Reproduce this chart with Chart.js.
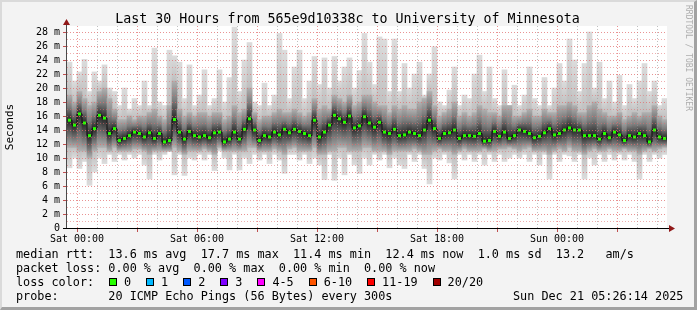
<!DOCTYPE html>
<html><head><meta charset="utf-8">
<script src="https://cdn.jsdelivr.net/npm/chart.js@4.4.1/dist/chart.umd.min.js"></script>
<style>
html,body{margin:0;padding:0;}
body{width:697px;height:310px;overflow:hidden;background:#f3f3f3;position:relative;font-family:'DejaVu Sans Mono',monospace;}
#frame{position:absolute;left:0;top:0;width:697px;height:310px;box-sizing:border-box;border-left:2px solid #dadada;border-top:2px solid #dadada;border-right:3px solid #a2a2a2;border-bottom:3px solid #a2a2a2;pointer-events:none;}
canvas{position:absolute;left:0;top:0;}
.t{position:absolute;white-space:pre;color:#000;font-size:11.8px;line-height:14px;}
#title{position:absolute;left:0;width:695px;top:11px;text-align:center;font-size:13.3px;line-height:16px;white-space:pre;color:#000;}
#wm{position:absolute;left:684px;top:5px;writing-mode:vertical-rl;font-size:8px;line-height:9px;color:#adadad;white-space:pre;}
.box{position:absolute;width:8px;height:8px;box-sizing:border-box;border:1px solid #000;}
</style>
</head><body>
<canvas id="c" width="697" height="310"></canvas>
<div id="title"></div>
<div id="wm">RRDTOOL / TOBI OETIKER</div>
<div id="legend"></div>
<div id="frame"></div>
<script>
// ---- data, one column = 15 minutes ----
const TITLE = 'Last 30 Hours from 565e9d10338c to University of Minnesota';
const START_HOUR = -0.375;      // centre of the first column, hours after Sat 00:00
const STEP_HOURS = 0.25;
const X_TICK_HOURS = [0, 6, 12, 18, 24];
const X_TICK_LABELS = ['Sat 00:00', 'Sat 06:00', 'Sat 12:00', 'Sat 18:00', 'Sun 00:00'];
const Y_TICK_LABELS = ['0','2 m','4 m','6 m','8 m','10 m','12 m','14 m','16 m','18 m','20 m','22 m','24 m','26 m','28 m'];
const Y_AXIS_TITLE = 'Seconds';

// smoke: highest ping (ms)
const HI = [23.7,21.0,22.3,24.1,19.5,22.3,21.0,23.3,20.0,19.5,
 17.5,20.0,17.0,18.5,17.5,21.0,17.5,25.7,18.0,17.5,
 25.4,24.6,23.7,18.5,23.3,17.5,19.0,22.6,17.5,18.5,
 22.6,18.0,21.5,28.7,19.5,24.0,26.5,18.0,17.5,20.7,
 17.5,19.0,27.8,25.4,18.5,23.0,25.4,18.5,21.0,24.5,
 20.5,24.3,20.0,24.5,21.0,23.0,24.3,20.0,22.5,27.8,
 23.7,20.5,27.3,27.0,19.5,27.0,19.5,23.5,20.0,22.0,
 23.7,19.0,22.0,25.9,18.0,17.5,19.7,23.0,17.5,19.0,
 18.5,22.0,24.7,19.5,23.0,18.5,17.5,22.6,17.5,20.4,
 17.5,19.0,23.0,18.5,17.5,21.5,17.5,20.0,23.5,21.0,
 27.0,24.0,19.5,23.5,28.0,20.0,23.7,18.5,21.0,18.0,
 21.8,17.5,20.5,18.5,21.0,23.5,19.5,21.0,17.5,18.5];
// smoke: upper edge of the dense band (ms)
const Q3 = [19.0,18.0,19.5,18.5,17.5,18.0,19.5,20.0,18.5,17.0,
 15.5,15.5,16.0,15.5,16.0,16.0,16.5,17.0,16.0,15.5,
 17.5,21.0,17.0,16.0,16.5,16.0,16.5,16.5,16.0,16.5,
 16.5,15.5,16.0,17.5,16.5,17.0,20.0,16.5,15.5,16.0,
 16.0,16.5,17.0,16.5,16.5,17.0,16.5,16.0,16.5,18.5,
 17.0,17.5,17.0,19.0,18.5,18.0,19.0,17.5,18.0,19.0,
 19.0,18.0,17.5,17.5,16.5,17.5,17.0,17.5,17.0,17.0,
 18.0,18.5,19.5,17.5,16.0,16.5,17.0,18.0,16.0,16.5,
 16.0,16.5,17.5,17.0,16.5,16.5,16.0,17.5,17.5,16.0,
 16.0,16.5,17.0,16.0,16.0,17.0,16.5,16.5,17.5,17.5,
 18.0,17.5,16.5,16.5,17.5,18.0,17.0,16.5,16.0,16.0,
 16.5,15.5,16.0,16.5,16.0,16.5,16.5,17.5,16.0,15.5];
// median rtt (ms)
const MED = [15.4,14.7,16.3,15.0,13.2,14.2,16.1,15.7,13.5,14.2,
 12.5,12.8,13.2,13.7,13.5,13.0,13.6,12.8,13.5,12.3,
 12.5,15.5,13.7,12.7,13.8,13.2,13.0,13.2,12.9,13.6,
 13.7,12.3,12.7,13.7,12.7,14.1,15.6,14.0,12.5,13.2,
 13.0,13.7,13.3,14.1,13.6,14.1,13.8,13.5,13.2,15.4,
 13.0,13.7,14.7,16.1,15.6,15.1,16.0,14.3,14.6,15.9,
 15.0,14.4,15.1,13.7,13.5,14.1,13.2,13.3,13.7,13.5,
 13.2,14.0,15.4,14.2,12.8,13.5,13.6,14.0,12.8,13.2,
 13.2,13.1,13.5,12.4,12.5,13.8,13.1,13.7,12.8,13.2,
 14.0,13.8,13.5,12.9,13.1,13.6,14.2,13.3,13.5,14.0,
 14.3,14.0,14.0,13.2,13.2,13.2,12.7,13.5,12.9,13.7,
 13.3,12.5,13.2,13.0,13.5,13.2,12.3,14.0,13.0,12.8];
// smoke: lower edge of the dense band (ms)
const Q1 = [11.5,11.5,11.0,11.0,10.0,11.0,11.5,11.5,11.0,11.5,
 11.0,11.0,11.0,11.3,11.3,11.0,10.5,11.0,11.0,11.0,
 11.0,11.5,11.0,10.5,11.0,11.0,11.0,11.3,11.0,10.5,
 11.5,11.0,11.0,11.0,11.0,11.0,11.5,11.5,11.0,11.0,
 11.0,11.3,11.0,10.5,11.3,11.5,11.0,11.0,11.0,11.5,
 10.5,10.5,11.0,11.0,11.5,11.5,11.0,11.0,11.0,11.5,
 11.5,11.0,11.0,11.0,10.5,11.0,11.0,11.0,11.0,11.3,
 11.0,10.5,10.5,11.0,11.3,11.0,11.0,10.5,11.0,11.3,
 11.0,11.0,11.0,11.3,11.0,11.0,11.3,11.3,11.5,11.3,
 11.0,11.3,11.5,11.0,11.0,11.0,10.5,11.0,11.3,11.0,
 11.5,11.0,11.0,10.5,11.0,11.3,11.0,11.0,11.3,11.0,
 11.0,11.3,11.0,11.0,10.5,11.0,11.3,11.0,11.3,11.5];
// smoke: lowest ping (ms)
const LO = [8.6,10.0,8.5,9.5,6.1,8.0,10.0,9.2,10.5,9.5,
 10.5,9.7,10.5,10.0,10.5,9.0,7.0,10.5,9.7,10.5,
 10.9,7.6,10.5,7.5,10.0,9.7,10.5,9.7,10.5,8.2,
 11.0,10.0,8.3,10.5,8.3,10.0,9.2,10.5,9.7,10.5,
 9.2,10.5,9.7,7.8,10.5,10.5,9.7,10.5,9.2,10.0,
 9.0,6.9,10.5,6.8,10.0,7.6,10.5,9.0,7.8,10.0,
 9.0,10.5,9.7,10.5,8.6,10.0,9.0,8.5,10.5,9.5,
 10.5,8.5,6.3,10.0,9.7,10.5,9.3,7.0,10.5,9.7,
 10.5,9.5,10.5,9.0,10.5,9.5,10.5,9.5,10.0,10.5,
 10.0,10.5,9.5,10.5,9.0,10.5,7.0,10.5,9.5,10.5,
 10.3,9.5,10.5,7.0,10.0,9.0,10.5,9.5,10.5,9.7,
 10.5,9.7,10.5,9.5,7.0,10.5,9.5,10.5,10.0,10.5];

const LEGEND_RTT = 'median rtt:  13.6 ms avg  17.7 ms max  11.4 ms min  12.4 ms now  1.0 ms sd  13.2   am/s';
const LEGEND_LOSS = 'packet loss: 0.00 % avg  0.00 % max  0.00 % min  0.00 % now';
const LOSS_LABELS = ['0', '1', '2', '3', '4-5', '6-10', '11-19', '20/20'];
const LOSS_COLORS = ['#26ff00', '#00b8ff', '#0059ff', '#7e00ff', '#ff00ff', '#ff5500', '#ff0000', '#a10000'];
const PROBE = 'probe:       20 ICMP Echo Pings (56 Bytes) every 300s';
const STAMP = 'Sun Dec 21 05:26:14 2025';

// ---- html text ----
document.getElementById('title').textContent = TITLE;
const lg = document.getElementById('legend');
function addText(txt, x, y) { const d = document.createElement('div'); d.className = 't'; d.style.left = x + 'px'; d.style.top = y + 'px'; d.textContent = txt; lg.appendChild(d); return d; }
addText(LEGEND_RTT, 16, 247);
addText(LEGEND_LOSS, 16, 261);
addText('loss color:', 16, 275);
let bx = 109;
LOSS_LABELS.forEach((lab, k) => {
  const b = document.createElement('div'); b.className = 'box';
  b.style.left = bx + 'px'; b.style.top = '278px'; b.style.background = LOSS_COLORS[k];
  lg.appendChild(b);
  addText(lab, bx + 15, 275);
  bx += 15 + lab.length * 7.1 + 15;
});
addText(PROBE, 16, 289);
addText(STAMP, 513, 289);

// ---- chart ----
const xs = MED.map((_, i) => START_HOUR + i * STEP_HOURS);
const outerData = xs.map((x, i) => ({ x, y: [LO[i], HI[i]] }));
const innerData = xs.map((x, i) => ({ x, y: [Q1[i], Q3[i]] }));
const medData = xs.map((x, i) => ({ x, y: MED[i] }));

function grad(c, top, bot, stops) {
  const chart = c.chart, ys = chart.scales.y;
  if (!ys || c.type !== 'data') return '#cccccc';
  const pt = ys.getPixelForValue(top), pb = ys.getPixelForValue(bot);
  if (!(pb > pt)) return stops[0][1];
  const g = chart.ctx.createLinearGradient(0, pt, 0, pb);
  stops.forEach(([v, col]) => {
    const f = Math.min(1, Math.max(0, (ys.getPixelForValue(v) - pt) / (pb - pt)));
    g.addColorStop(f, col);
  });
  return g;
}

const decor = {
  id: 'decor',
  beforeDraw(chart) {
    const a = chart.chartArea, c = chart.ctx;
    c.save(); c.fillStyle = '#ffffff'; c.fillRect(a.left, a.top, a.right - a.left, a.bottom - a.top); c.restore();
  },
  afterDraw(chart) {
    const a = chart.chartArea, c = chart.ctx;
    c.save();
    c.fillStyle = '#4a4a4a'; c.fillRect(a.left - 1, a.top - 4, 1, a.bottom - a.top + 5);
    c.fillStyle = '#000000'; c.fillRect(a.left - 4, a.bottom, a.right - a.left + 7, 1);
    c.fillStyle = '#901818';
    c.beginPath(); c.moveTo(a.left - 0.5, a.top - 7); c.lineTo(a.left - 4, a.top - 1); c.lineTo(a.left + 3, a.top - 1); c.closePath(); c.fill();
    c.beginPath(); c.moveTo(a.right + 8, a.bottom + 0.5); c.lineTo(a.right + 2, a.bottom - 3); c.lineTo(a.right + 2, a.bottom + 4); c.closePath(); c.fill();
    c.restore();
  }
};

Chart.defaults.font.family = "'DejaVu Sans Mono', monospace";
Chart.defaults.color = '#000';

new Chart(document.getElementById('c'), {
  type: 'bar',
  data: {
    datasets: [
      { type: 'line', data: medData, order: 0, borderColor: '#111111', borderWidth: 1, stepped: 'middle',
        pointStyle: 'rect', pointRadius: 2.1, pointBackgroundColor: '#26ff00', pointBorderWidth: 0, fill: false },
      { data: innerData, order: 1, grouped: false, barPercentage: 1, categoryPercentage: 1, borderWidth: 0,
        backgroundColor: c => { const i = c.dataIndex; return grad(c, Q3[i], Q1[i], [[Q3[i], '#b0b0b0'], [(Q3[i] + MED[i]) / 2, '#7c7c7c'], [MED[i], '#262626'], [(MED[i] + Q1[i]) / 2, '#6a6a6a'], [Q1[i], '#b0b0b0']]); } },
      { data: outerData, order: 2, grouped: false, barPercentage: 1, categoryPercentage: 1, borderWidth: 0,
        backgroundColor: c => { const i = c.dataIndex; return grad(c, HI[i], LO[i], [[HI[i], '#dcdcdc'], [Q3[i], '#c0c0c0'], [Q1[i], '#c0c0c0'], [LO[i], '#dcdcdc']]); } }
    ]
  },
  options: {
    responsive: false, devicePixelRatio: 1, animation: false, events: [],
    layout: { padding: { left: 0, top: 26, right: 30, bottom: 62 } },
    plugins: { legend: { display: false }, tooltip: { enabled: false } },
    scales: {
      x: {
        type: 'linear', min: -0.5, max: 29.5, offset: false,
        afterBuildTicks: s => { const t = []; for (let h = 0; h <= 29; h++) t.push({ value: h }); s.ticks = t; },
        afterFit: s => { s.height = 20; },
        grid: { offset: false, z: 1, lineWidth: 1,
          color: c => c.tick && c.tick.value % 3 === 0 ? 'rgba(225,110,110,0.75)' : 'rgba(150,150,150,0.6)',
          tickColor: c => c.tick && c.tick.value % 3 === 0 ? '#c05050' : 'rgba(0,0,0,0)', tickLength: 4 },
        border: { display: false, dash: [1, 2] },
        ticks: { autoSkip: false, maxRotation: 0, minRotation: 0, padding: 1, font: { size: 10 }, color: '#000',
          callback: v => { const k = X_TICK_HOURS.indexOf(v); return k >= 0 ? X_TICK_LABELS[k] : ''; } }
      },
      y: {
        type: 'linear', min: 0, max: 28.86,
        afterBuildTicks: s => { const t = []; for (let v = 0; v <= 28; v++) t.push({ value: v }); s.ticks = t; },
        afterFit: s => { s.width = 67; },
        grid: { z: 1, lineWidth: 1,
          color: c => c.tick && c.tick.value % 2 === 0 ? 'rgba(225,110,110,0.75)' : 'rgba(225,110,110,0.55)',
          tickColor: c => c.tick && c.tick.value % 2 === 0 ? '#c05050' : 'rgba(0,0,0,0)', tickLength: 4 },
        border: { display: false, dash: [1, 2] },
        title: { display: true, text: Y_AXIS_TITLE, font: { size: 11 }, color: '#000', padding: { top: 4, bottom: 0 } },
        ticks: { autoSkip: false, padding: 3, font: { size: 10 }, color: '#000',
          callback: v => (v % 2 === 0 ? Y_TICK_LABELS[v / 2] : '') }
      }
    }
  },
  plugins: [decor]
});
</script>
</body></html>
